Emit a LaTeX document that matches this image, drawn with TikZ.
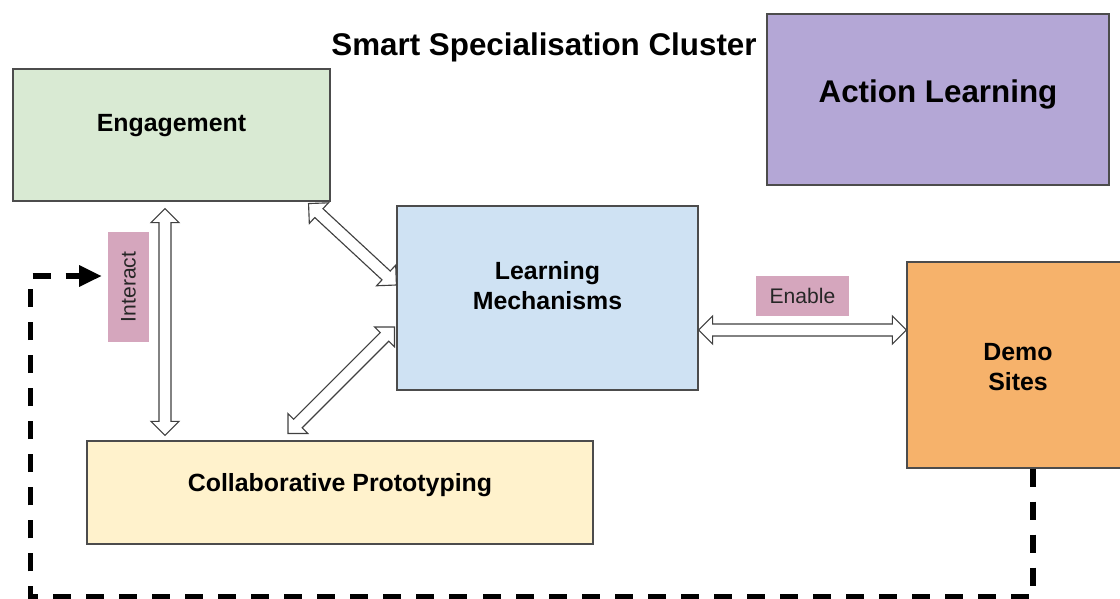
\documentclass[tikz,border=0pt]{standalone}
\usepackage{fontspec}
\setmainfont{Liberation Sans}
\usetikzlibrary{arrows.meta,calc}

\definecolor{engfill}{HTML}{D9EAD3}
\definecolor{actfill}{HTML}{B4A7D6}
\definecolor{lmfill}{HTML}{CFE2F3}
\definecolor{demofill}{HTML}{F6B26B}
\definecolor{protofill}{HTML}{FFF2CC}
\definecolor{tagfill}{HTML}{D5A6BD}

% one unit of the grid
\newcommand{\pxl}{0.025cm}
% hollow two-way arrow between two points
\newcommand{\arrlen}{10pt}
\newcommand{\arrhead}{10pt}
\newcommand{\arrshaft}{4.3pt}
\newcommand{\twoway}[2]{%
  \draw[blockarr] (#1)
    -- ($(#1)!\arrlen!(#2)!\arrhead!90:(#2)$)
    -- ($(#1)!\arrlen!(#2)!\arrshaft!90:(#2)$)
    -- ($(#2)!\arrlen!(#1)!\arrshaft!-90:(#1)$)
    -- ($(#2)!\arrlen!(#1)!\arrhead!-90:(#1)$)
    -- (#2)
    -- ($(#2)!\arrlen!(#1)!\arrhead!90:(#1)$)
    -- ($(#2)!\arrlen!(#1)!\arrshaft!90:(#1)$)
    -- ($(#1)!\arrlen!(#2)!\arrshaft!-90:(#2)$)
    -- ($(#1)!\arrlen!(#2)!\arrhead!-90:(#2)$)
    -- cycle;}

\begin{document}
\begin{tikzpicture}[x=0.025cm, y=-0.025cm,
      box/.style={draw=black!70, line width=0.8pt},
      boxtext/.style={font=\fontsize{17.7}{21.3}\selectfont\bfseries, align=center},
      bigtext/.style={font=\fontsize{22.3}{26}\selectfont\bfseries},
      tag/.style={fill=tagfill, text=black!85, inner sep=0pt,
                  font=\fontsize{15}{18}\selectfont},
      blockarr/.style={draw=black!75, fill=white, line width=0.8pt},
      loopline/.style={line width=3.6pt, dash pattern=on 12.8pt off 10.7pt,
                       -{Triangle[length=16pt, width=14.5pt]}}]

  \useasboundingbox (0,0) rectangle (1120,599);

  % boxes
  \node[box, fill=engfill, minimum width=317*\pxl, minimum height=132*\pxl] (eng) at (171.5,135) {};
  \node[box, fill=actfill, minimum width=342*\pxl, minimum height=171*\pxl] (act) at (938,99.5) {};
  \node[box, fill=lmfill, minimum width=301*\pxl, minimum height=184*\pxl] (lm) at (547.5,298) {};
  \node[box, fill=protofill, minimum width=506*\pxl, minimum height=103*\pxl] (proto) at (340,492.5) {};
  \node[box, fill=demofill, minimum width=223*\pxl, minimum height=206*\pxl] (demo) at (1018.5,365) {};

  % texts
  \node[bigtext] (title) at (544,47) {Smart Specialisation Cluster};
  \node[bigtext] (acttxt) at (938,94) {Action Learning};
  \node[boxtext] (engtxt) at (171.5,126) {Engagement};
  \node[boxtext] (lmtxt) at (547.5,286) {Learning\\Mechanisms};
  \node[boxtext] (prototxt) at (340,485) {Collaborative Prototyping};
  \node[boxtext] (demotxt) at (1018,367) {Demo\\Sites};

  % tags
  \node[tag, rotate=90, minimum width=110*\pxl, minimum height=41*\pxl] (interact) at (128.5,287) {Interact};
  \node[tag, minimum width=93*\pxl, minimum height=40*\pxl] (enable) at (802.5,296) {Enable};

  % arrow ends
  \coordinate (e1) at ([shift={(-6.5,7)}]eng.south);
  \coordinate (p1) at ([shift={(-175,-5)}]proto.north);
  \coordinate (e2) at ([shift={(-22,2)}]eng.south east);
  \coordinate (l1) at ([shift={(0,-13)}]lm.west);
  \coordinate (p2) at ([shift={(-52,-7)}]proto.north);
  \coordinate (l2) at ([shift={(-2,29)}]lm.west);
  \coordinate (l3) at ([shift={(0,32)}]lm.east);
  \coordinate (d1) at ([shift={(0,-35)}]demo.west);

  \twoway{e1}{p1}
  \twoway{e2}{l1}
  \twoway{p2}{l2}
  \twoway{l3}{d1}

  % feedback loop
  \draw[loopline] ([shift={(14.5,0)}]demo.south) |- (30.5,597)
                  |- ([shift={(-6,-11)}]interact.north);
\end{tikzpicture}
\end{document}
